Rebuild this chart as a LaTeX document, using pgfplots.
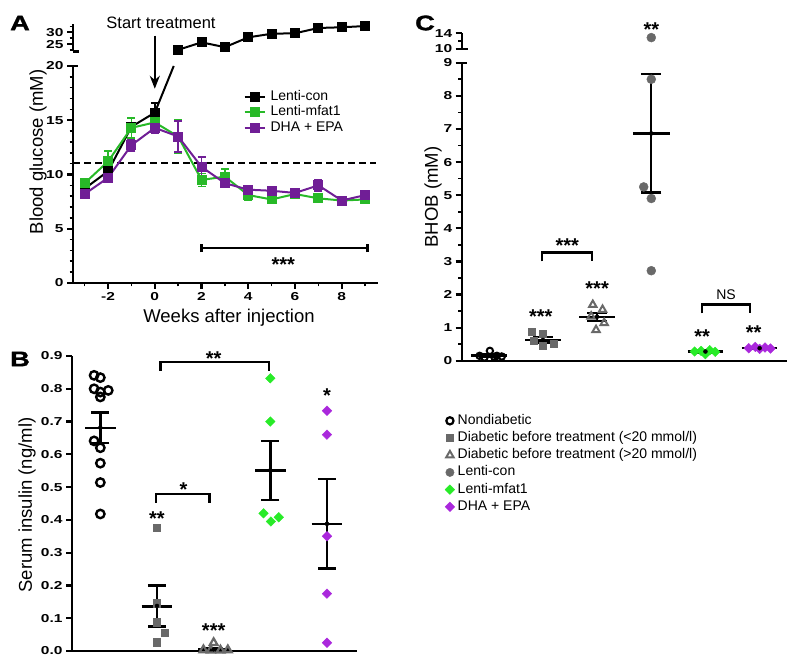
\documentclass[border=0pt]{standalone}
\usepackage{fontspec}
\setmainfont{Liberation Sans}
\newfontfamily\tickfont[FakeStretch=1.35]{Liberation Sans}
\newfontfamily\letfont[FakeStretch=1.3, FakeBold=1.5]{Liberation Sans}
\usepackage{pgfplots}
\pgfplotsset{compat=1.18}
\usetikzlibrary{arrows.meta}
\definecolor{agreen}{RGB}{40,185,40}
\definecolor{apurple}{RGB}{112,30,150}
\definecolor{bgreen}{RGB}{40,235,40}
\definecolor{bpurple}{RGB}{170,40,220}
\definecolor{dgray}{RGB}{105,105,105}
\newcommand{\tf}{\tickfont\bfseries\fontsize{11.5}{11.5}\selectfont}
\newcommand{\lf}{\fontsize{18.5}{20}\selectfont}
\newcommand{\stf}{\bfseries\fontsize{20}{20}\selectfont}
\pgfplotsset{
  base/.style={scale only axis, clip=false,
    axis line style={-, line width=2.3pt},
    tick style={line width=2.2pt, black},
    minor tick style={line width=1.6pt},
    major tick length=6pt, minor tick length=3.5pt,
    tick label style={font=\tf},
    /pgf/number format/assume math mode=true},
  meanline/.style={black, line width=2.4pt, forget plot},
  sem/.style={black, only marks, mark=none, forget plot, error bars/.cd, y dir=both, y explicit, error bar style={line width=2.4pt, black}, error mark options={rotate=90, line width=2.4pt, mark size=#1, black}},
  aerr/.style={forget plot, error bars/.cd, y dir=both, y explicit, error bar style={line width=1.8pt, #1}, error mark options={rotate=90, line width=1.8pt, mark size=4pt, #1}},
}
\begin{document}
\begin{tikzpicture}
\path[use as bounding box] (0pt,0pt) rectangle (797pt,668pt);
% ---------------- Panel A lower
\begin{axis}[base, at={(73pt,385pt)}, anchor=south west, width=305pt, height=217pt,
  xmin=-3.5, xmax=9.55, ymin=0, ymax=20,
  axis x line=bottom, axis y line=left, axis line style={-}, tick align=outside,
  xtick={-2,0,2,4,6,8}, minor xtick={-3,-1,1,3,5,7,9},
  ytick={0,5,10,15,20}, minor ytick={1,2,3,4,6,7,8,9,11,12,13,14,16,17,18,19},
  legend style={at={(axis cs:3.79,17.8)}, anchor=north west, draw=none, fill=none, inner sep=0pt,
    font=\fontsize{14}{14}\selectfont, row sep=2.5pt, column sep=5pt, nodes={inner sep=0pt, text height=10pt, text depth=3pt}},
  legend image code/.code={\draw[mark repeat=2,mark phase=2,#1] plot coordinates {(0pt,0pt) (10pt,0pt) (20pt,0pt)};},
  legend cell align=left]
\addlegendimage{black, line width=2pt, mark=square*, mark size=4pt}
\addlegendentry{Lenti-con}
\addlegendimage{agreen, line width=2pt, mark=square*, mark size=4pt}
\addlegendentry{Lenti-mfat1}
\addlegendimage{apurple, line width=2pt, mark=square*, mark size=4pt}
\addlegendentry{DHA + EPA}
\addplot[black, line width=2pt, dash pattern=on 7pt off 4pt, forget plot] coordinates {(-3.5,11.1) (9.45,11.1)};
\addplot[black, line width=2pt, mark=square*, mark size=4pt, aerr=black] coordinates {
 (-3,8.7) +- (0,0.3) (-2,10.3) +- (0,0.3) (-1,14.4) +- (0,0.3) (0,15.7) +- (0,0.9)};
\addplot[black, line width=2pt, forget plot] coordinates {(0,15.7) (0.81,20)};
\addplot[agreen, line width=2pt, mark=square*, mark size=4pt, aerr=agreen] coordinates {
 (-3,9.2) +- (0,0.4) (-2,11.2) +- (0,1.0) (-1,14.3) +- (0,0.9) (0,14.8) +- (0,0.6) (1,13.5) +- (0,1.5)
 (2,9.5) +- (0,0.6) (3,9.8) +- (0,0.7) (4,8.1) +- (0,0.5) (5,7.7) +- (0,0.3) (6,8.2) +- (0,0.3)
 (7,7.8) +- (0,0.3) (8,7.6) +- (0,0.2) (9,7.7) +- (0,0.2)};
\addplot[apurple, line width=2pt, mark=square*, mark size=4pt, aerr=apurple] coordinates {
 (-3,8.2) +- (0,0.3) (-2,9.7) +- (0,0.4) (-1,12.7) +- (0,0.5) (0,14.3) +- (0,0.5) (1,13.5) +- (0,1.4)
 (2,10.7) +- (0,0.9) (3,9.2) +- (0,0.3) (4,8.6) +- (0,0.3) (5,8.5) +- (0,0.3) (6,8.3) +- (0,0.3)
 (7,9.0) +- (0,0.5) (8,7.6) +- (0,0.2) (9,8.1) +- (0,0.2)};
\draw[line width=2.2pt] (axis cs:-3.5,20) -- ++(5pt,0pt);
\draw[line width=2.4pt] (axis cs:2,3.2) -- (axis cs:9.1,3.2);
\draw[line width=2.4pt] (axis cs:2,2.85) -- (axis cs:2,3.55);
\draw[line width=2.4pt] (axis cs:9.1,2.85) -- (axis cs:9.1,3.55);
\node[font=\stf, inner sep=0pt] at (axis cs:5.5,1.7) {***};
\draw[line width=2pt, -{Stealth[length=13pt, width=10pt]}] (axis cs:0,22.8) -- (axis cs:0,17.9);
\end{axis}
% ---------------- Panel A upper
\begin{axis}[base, at={(73pt,616.5pt)}, anchor=south west, width=305pt, height=27.1pt,
  xmin=-3.5, xmax=9.55, ymin=22, ymax=33.3,
  axis x line=none, axis y line=left, axis line style={-}, tick align=outside,
  ytick={25,30}, minor ytick={22.5,27.5,32.5}]
\addplot[black, line width=2pt, mark=square*, mark size=4pt, aerr=black] coordinates {
 (1,22.7) +- (0,0.6) (2,25.8) +- (0,1.2) (3,23.8) +- (0,0.6) (4,27.9) +- (0,0.6) (5,29.4) +- (0,0.5)
 (6,29.6) +- (0,0.6) (7,31.8) +- (0,0.5) (8,32.1) +- (0,0.4) (9,32.6) +- (0,0.4)};
\draw[line width=2.2pt] (axis cs:-3.5,22) -- ++(6pt,0pt);
\end{axis}
\node[font=\lf, rotate=90] at (38pt,516pt) {Blood glucose (mM)};
\node[font=\lf] at (229pt,350pt) {Weeks after injection};
\node[font=\fontsize{16.5}{17}\selectfont] at (161pt,645pt) {Start treatment};
\node[font=\letfont\bfseries\fontsize{21}{21}\selectfont] at (20pt,645pt) {A};
\node[font=\letfont\bfseries\fontsize{21}{21}\selectfont] at (20pt,309pt) {B};
\node[font=\letfont\bfseries\fontsize{21}{21}\selectfont] at (425pt,645pt) {C};
% ---------------- Panel B
\begin{axis}[base, at={(72pt,17pt)}, anchor=south west, width=285pt, height=295pt,
  xmin=0.5, xmax=5.53, ymin=0, ymax=0.9,
  axis x line=bottom, axis y line=left, axis line style={-}, tick align=outside,
  xtick=\empty, ytick={0,0.1,0.2,0.3,0.4,0.5,0.6,0.7,0.8,0.9},
  yticklabel style={/pgf/number format/.cd, fixed, fixed zerofill, precision=1}]
\addplot[only marks, mark=o, mark size=4.2pt, mark options={line width=2.4pt, black}] coordinates {
 (0.89,0.841) (1.0,0.834) (0.89,0.80) (1.0,0.79) (1.14,0.795) (1.0,0.775)
 (0.89,0.641) (1.0,0.62) (1.0,0.573) (1.0,0.514) (1.0,0.418)};
\addplot[only marks, mark=square*, mark size=3.6pt, mark options={dgray}] coordinates {
 (2.0,0.375) (2.0,0.146) (2.0,0.088) (2.14,0.055) (2.0,0.027)};
\addplot[only marks, mark=triangle, mark size=4.5pt, mark options={line width=2.2pt, dgray}] coordinates {
 (3.0,0.025) (2.82,0.003) (2.95,0.002) (3.12,0.002) (3.25,0.003)};
\addplot[only marks, mark=square*, mark size=3.4pt, mark options={rotate=45, bgreen}] coordinates {
 (4.0,0.832) (4.0,0.70) (3.88,0.42) (4.01,0.395) (4.15,0.408)};
\addplot[only marks, mark=square*, mark size=3.4pt, mark options={rotate=45, bpurple}] coordinates {
 (5.0,0.733) (5.0,0.66) (5.0,0.35) (5.0,0.175) (5.0,0.025)};
\addplot[meanline] coordinates {(0.73,0.681) (1.27,0.681)};
\addplot[sem=9pt] coordinates {(1,0.6815) +- (0,0.0465)};
\addplot[meanline] coordinates {(1.73,0.136) (2.27,0.136)};
\addplot[sem=9pt] coordinates {(2,0.1375) +- (0,0.0625)};
\addplot[meanline] coordinates {(2.73,0.005) (3.27,0.005)};
\addplot[sem=9pt] coordinates {(3,0.005) +- (0,0.003)};
\addplot[meanline] coordinates {(3.73,0.551) (4.27,0.551)};
\addplot[sem=9pt] coordinates {(4,0.551) +- (0,0.09)};
\addplot[meanline] coordinates {(4.73,0.388) (5.27,0.388)};
\addplot[sem=9pt] coordinates {(5,0.388) +- (0,0.136)};
\draw[line width=2.4pt] (axis cs:2.06,0.855) -- (axis cs:2.06,0.882) -- (axis cs:3.98,0.882) -- (axis cs:3.98,0.855);
\node[font=\stf, inner sep=0pt] at (axis cs:3.0,0.893) {**};
\draw[line width=2.4pt] (axis cs:1.98,0.452) -- (axis cs:1.98,0.479) -- (axis cs:2.93,0.479) -- (axis cs:2.93,0.452);
\node[font=\stf, inner sep=0pt] at (axis cs:2.47,0.493) {*};
\node[font=\stf, inner sep=0pt] at (axis cs:2.0,0.403) {**};
\node[font=\stf, inner sep=0pt] at (axis cs:3.0,0.063) {***};
\node[font=\stf, inner sep=0pt] at (axis cs:5.0,0.778) {*};
\end{axis}
\node[font=\lf, rotate=90] at (27pt,163pt) {Serum insulin (ng/ml)};
% ---------------- Panel C lower
\begin{axis}[base, at={(461.7pt,307.2pt)}, anchor=south west, width=325pt, height=298.1pt,
  xmin=0.5, xmax=6.5, ymin=0, ymax=9,
  axis x line=bottom, axis y line=left, axis line style={-}, tick align=outside,
  xtick=\empty, ytick={0,1,2,3,4,5,6,7,8,9}, minor ytick={0.5,1.5,2.5,3.5,4.5,5.5,6.5,7.5,8.5},
  legend style={at={(axis cs:0.19,-1.61)}, anchor=north west, draw=none, fill=none, inner sep=0pt,
    font=\fontsize{14}{14}\selectfont, row sep=4.2pt, column sep=3pt, nodes={inner sep=0pt, text height=10pt, text depth=3pt}},
  legend image code/.code={\draw[#1] plot coordinates {(5pt,0pt)};},
  legend cell align=left]
\addlegendimage{only marks, mark=o, mark size=3.6pt, mark options={line width=2.2pt, black}}
\addlegendentry{Nondiabetic}
\addlegendimage{only marks, mark=square*, mark size=3.4pt, mark options={dgray}}
\addlegendentry{Diabetic before treatment (<20 mmol/l)}
\addlegendimage{only marks, mark=triangle, mark size=4.3pt, mark options={line width=2pt, dgray}}
\addlegendentry{Diabetic before treatment (>20 mmol/l)}
\addlegendimage{only marks, mark=*, mark size=4.2pt, mark options={dgray}}
\addlegendentry{Lenti-con}
\addlegendimage{only marks, mark=square*, mark size=3.4pt, mark options={rotate=45, bgreen}}
\addlegendentry{Lenti-mfat1}
\addlegendimage{only marks, mark=square*, mark size=3.4pt, mark options={rotate=45, bpurple}}
\addlegendentry{DHA + EPA}
\addplot[only marks, mark=o, mark size=3.2pt, mark options={line width=2pt, black}, forget plot] coordinates {
 (0.83,0.15) (0.92,0.1) (1.02,0.3) (1.1,0.12) (1.15,0.15) (1.24,0.13)};
\addplot[only marks, mark=square*, mark size=3.5pt, mark options={dgray}, forget plot] coordinates {
 (1.8,0.87) (2.0,0.83) (1.82,0.6) (2.2,0.53) (2.0,0.45)};
\addplot[only marks, mark=triangle, mark size=4.3pt, mark options={line width=2pt, dgray}, forget plot] coordinates {
 (2.92,1.69) (3.1,1.54) (2.89,1.34) (3.13,1.14) (2.98,0.93)};
\addplot[only marks, mark=*, mark size=4.5pt, mark options={dgray}, forget plot] coordinates {
 (4.0,8.5) (3.86,5.25) (4.0,4.9) (4.0,2.72)};
\addplot[only marks, mark=square*, mark size=3.4pt, mark options={rotate=45, bgreen}, forget plot] coordinates {
 (4.8,0.28) (4.92,0.3) (5.0,0.2) (5.08,0.32) (5.18,0.27)};
\addplot[only marks, mark=square*, mark size=3.4pt, mark options={rotate=45, bpurple}, forget plot] coordinates {
 (5.8,0.38) (5.92,0.42) (6.0,0.36) (6.1,0.4) (6.2,0.37)};
\addplot[meanline] coordinates {(0.67,0.16) (1.33,0.16)};
\addplot[sem=10pt] coordinates {(1,0.16) +- (0,0.03)};
\addplot[meanline] coordinates {(1.67,0.63) (2.33,0.63)};
\addplot[sem=10pt] coordinates {(2,0.63) +- (0,0.08)};
\addplot[meanline] coordinates {(2.67,1.33) (3.33,1.33)};
\addplot[sem=10pt] coordinates {(3,1.33) +- (0,0.12)};
\addplot[meanline] coordinates {(3.66,6.865) (4.34,6.865)};
\addplot[sem=10pt] coordinates {(4,6.865) +- (0,1.785)};
\addplot[meanline] coordinates {(4.67,0.28) (5.33,0.28)};
\addplot[sem=10pt] coordinates {(5,0.28) +- (0,0.03)};
\addplot[meanline] coordinates {(5.67,0.38) (6.33,0.38)};
\addplot[sem=10pt] coordinates {(6,0.38) +- (0,0.03)};
\draw[line width=2.2pt] (axis cs:0.5,9) -- ++(5pt,0pt);
\draw[line width=2.4pt] (axis cs:1.98,3.0) -- (axis cs:1.98,3.27) -- (axis cs:2.9,3.27) -- (axis cs:2.9,3.0);
\node[font=\stf, inner sep=0pt] at (axis cs:2.45,3.48) {***};
\draw[line width=2.4pt] (axis cs:4.94,1.43) -- (axis cs:4.94,1.7) -- (axis cs:5.82,1.7) -- (axis cs:5.82,1.43);
\node[font=\fontsize{14}{14}\selectfont, inner sep=0pt] at (axis cs:5.38,1.99) {NS};
\node[font=\stf, inner sep=0pt] at (axis cs:1.96,1.34) {***};
\node[font=\stf, inner sep=0pt] at (axis cs:3.0,2.18) {***};
\node[font=\stf, inner sep=0pt] at (axis cs:4.94,0.74) {**};
\node[font=\stf, inner sep=0pt] at (axis cs:5.89,0.84) {**};
\end{axis}
% ---------------- Panel C upper
\begin{axis}[base, at={(461.7pt,619pt)}, anchor=south west, width=325pt, height=15.7pt,
  xmin=0.5, xmax=6.5, ymin=10, ymax=14,
  axis x line=none, axis y line=left, axis line style={-}, tick align=outside,
  ytick={10,14}, minor ytick={12}]
\addplot[only marks, mark=*, mark size=4.5pt, mark options={dgray}] coordinates {(4.0,12.9)};
\draw[line width=2.2pt] (axis cs:0.5,10) -- ++(6pt,0pt);
\node[font=\stf, inner sep=0pt] at (axis cs:4.0,15.0) {**};
\end{axis}
\node[font=\lf, rotate=90] at (433pt,471pt) {BHOB (mM)};
\end{tikzpicture}
\end{document}
